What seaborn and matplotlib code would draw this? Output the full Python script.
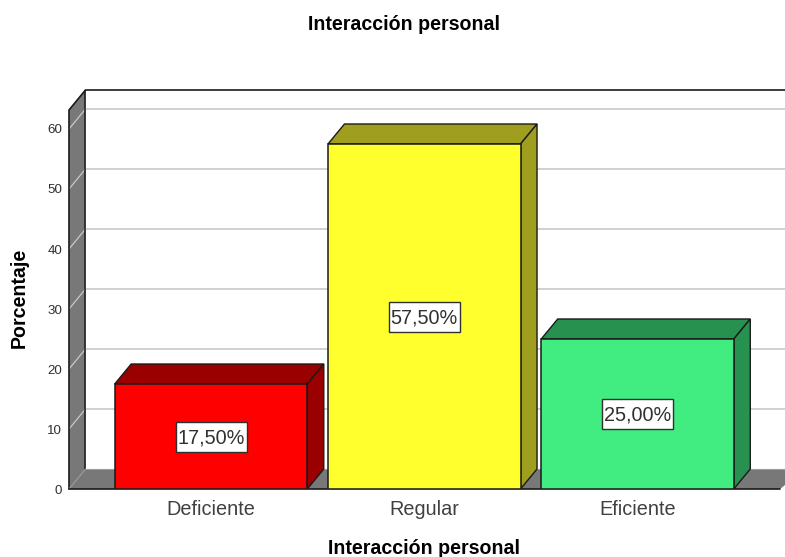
import matplotlib
matplotlib.use("Agg")
import matplotlib.pyplot as plt
from matplotlib.patches import Polygon, Rectangle
import pandas as pd
import seaborn as sns

categories = ["Deficiente", "Regular", "Eficiente"]
percentages = [17.5, 57.5, 25.0]
value_labels = ["17,50%", "57,50%", "25,00%"]
front_colors = ["#ff0000", "#ffff2d", "#41ed80"]
side_colors = ["#9b0000", "#a09e1e", "#27914f"]
y_ticks = [0, 10, 20, 30, 40, 50, 60]

WALL = "#787878"
GRID = "#c8c8c8"
EDGE = "#1a1a1a"

sns.set_theme(style="white")
plt.rcParams["font.family"] = ["Liberation Sans", "DejaVu Sans"]

W, H = 785, 557
fig = plt.figure(figsize=(W / 100, H / 100), dpi=100)
ax = fig.add_axes([69 / W, (H - 489) / H, (W - 69) / W, (489 - 90) / H])

df = pd.DataFrame({"cat": categories, "pct": percentages})
sns.barplot(data=df, x="cat", y="pct", hue="cat", palette=front_colors, legend=False,
            width=0.903, saturation=1, edgecolor=EDGE, linewidth=1.1, zorder=5, ax=ax)

# 213.25 px per category, 6 px per percent
PX_X = 1 / 213.25
PX_Y = 1 / 6
x0 = -142 * PX_X
x1 = 2 + 147.5 * PX_X
top = 399 * PX_Y
ax.set_xlim(x0, x1)
ax.set_ylim(0, top)
dx = 16.5 * PX_X
dy = 20 * PX_Y

# walls and floor
ax.add_patch(Polygon([(x0, 0), (x0 + dx, dy), (x0 + dx, top), (x0, top - dy)],
                     facecolor=WALL, edgecolor="none", zorder=1))
ax.add_patch(Polygon([(x0, 0), (x0 + dx, dy), (x1 + 20 * PX_X, dy), (x1 - 5 * PX_X, 0)],
                     facecolor=WALL, edgecolor="none", zorder=1))

for t in y_ticks[1:]:
    ax.plot([x0 + dx, x1], [t + dy, t + dy], color=GRID, lw=1.2, zorder=2)
    ax.plot([x0, x0 + dx], [t, t + dy], color=GRID, lw=0.9, zorder=2)

ax.plot([x0, x0, x0 + dx, x1], [0, top - dy, top, top], color=EDGE, lw=1.2, zorder=3, clip_on=False)
ax.plot([x0 + dx, x0 + dx], [dy, top], color=EDGE, lw=1.1, zorder=3)
ax.plot([x0, x0 + dx], [0, dy], color="#9a9a9a", lw=0.8, zorder=3)
ax.plot([x0 + dx, x1], [dy, dy], color="#9a9a9a", lw=0.8, zorder=2)
ax.plot([x0, x1 - 5 * PX_X], [0, 0], color=EDGE, lw=1.2, zorder=3, clip_on=False)

# depth faces of the bars
for bar, side, label in zip(ax.patches[:3], side_colors, value_labels):
    bl = bar.get_x()
    br = bl + bar.get_width()
    h = bar.get_height()
    ax.add_patch(Polygon([(bl, h), (bl + dx, h + dy), (br + dx, h + dy), (br, h)],
                         facecolor=side, edgecolor=EDGE, lw=1.0, zorder=4))
    ax.add_patch(Polygon([(br, 0), (br + dx, dy), (br + dx, h + dy), (br, h)],
                         facecolor=side, edgecolor=EDGE, lw=1.0, zorder=4))
    cx = bl + bar.get_width() / 2
    ax.add_patch(Rectangle((cx - 35.5 * PX_X, h / 2 - 15 * PX_Y), 71 * PX_X, 30 * PX_Y,
                           facecolor="white", edgecolor="#303030", lw=1.0, zorder=6))
    ax.text(cx, h / 2 + 1 * PX_Y, label, ha="center", va="center_baseline",
            fontsize=14.3, color="#303030", zorder=7)

sns.despine(ax=ax, left=True, bottom=True)
ax.set_xticks(range(len(categories)))
ax.set_xticklabels(categories, fontsize=14.3, color="#404040")
ax.set_yticks(y_ticks)
ax.set_yticklabels([str(t) for t in y_ticks], fontsize=9.6, color="#303030")
ax.tick_params(axis="x", length=0, pad=8)
ax.tick_params(axis="y", length=0, pad=5)
ax.set_xlabel("")
ax.set_ylabel("")

fig.text(404 / W, 1 - 24.5 / H, "Interacción personal", ha="center", va="center",
         fontsize=14.1, fontweight="bold", color="black")
fig.text(424 / W, 1 - 548.5 / H, "Interacción personal", ha="center", va="center",
         fontsize=14.1, fontweight="bold", color="black")
fig.text(19 / W, 1 - 298 / H, "Porcentaje", rotation=90, ha="center", va="center",
         fontsize=14.1, fontweight="bold", color="black")

fig.savefig("out.png", dpi=100, facecolor="white")
plt.close(fig)
